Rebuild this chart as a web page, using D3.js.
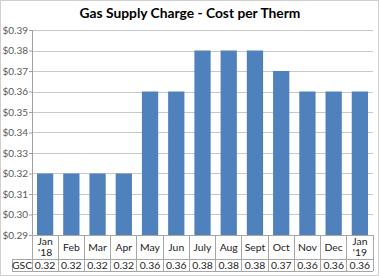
<!DOCTYPE html>
<html>
<head>
<meta charset="utf-8">
<script src="https://cdn.jsdelivr.net/npm/d3@7"></script>
<style>
  body { margin: 0; background: #fff; }
  text { font-family: Lato, "Open Sans", sans-serif; }
</style>
</head>
<body>
<div id="chart"></div>
<script>
var months = ['Jan\n\'18', 'Feb', 'Mar', 'Apr', 'May', 'Jun', 'July', 'Aug', 'Sept', 'Oct', 'Nov', 'Dec', 'Jan\n\'19'];
var gsc = [0.32, 0.32, 0.32, 0.32, 0.36, 0.36, 0.38, 0.38, 0.38, 0.37, 0.36, 0.36, 0.36];
var yTicks = [0.29, 0.30, 0.31, 0.32, 0.33, 0.34, 0.35, 0.36, 0.37, 0.38, 0.39];
var seriesName = 'GSC';

var width = 380, height = 276;
var plotL = 32, plotR = 373, plotT = 30, plotB = 235;
var row1 = 259, row2 = 271, gscLeft = 12;

var svg = d3.select('#chart').append('svg')
    .attr('width', width).attr('height', height);

svg.append('rect')
    .attr('x', 0.5).attr('y', 0.5)
    .attr('width', width - 2).attr('height', height - 1)
    .attr('fill', '#fff').attr('stroke', '#d0d0d0');

svg.append('text')
    .attr('x', 190).attr('y', 18)
    .attr('text-anchor', 'middle')
    .attr('font-size', 13.8).attr('font-weight', 'bold')
    .attr('fill', '#000')
    .text('Gas Supply Charge - Cost per Therm');

var x = d3.scaleBand().domain(d3.range(months.length)).range([plotL, plotR]).paddingInner(0.38).paddingOuter(0.19);
var xc = d3.scaleBand().domain(d3.range(months.length)).range([plotL, plotR]);
var y = d3.scaleLinear().domain([0.29, 0.39]).range([plotB, plotT]);

// gridlines
svg.append('g').selectAll('line').data(yTicks.slice(1)).enter().append('line')
    .attr('x1', plotL).attr('x2', plotR)
    .attr('y1', function(d) { return Math.round(y(d)) + 0.5; })
    .attr('y2', function(d) { return Math.round(y(d)) + 0.5; })
    .attr('stroke', '#c8c8c8');

// y axis
var yAxis = svg.append('g').attr('transform', 'translate(' + plotL + ',0)')
    .call(d3.axisLeft(y).tickValues(yTicks).tickSize(3).tickFormat(function(d) { return '$' + d.toFixed(2); }));
yAxis.select('.domain').attr('stroke', '#a0a0a0');
yAxis.selectAll('.tick line').attr('stroke', '#a0a0a0');
yAxis.selectAll('.tick text').attr('font-size', 10).attr('fill', '#595959')
    .attr('font-family', 'Lato, sans-serif').attr('x', -4);

// bars
svg.append('g').selectAll('rect').data(gsc).enter().append('rect')
    .attr('x', function(d, i) { return x(i); })
    .attr('width', x.bandwidth())
    .attr('y', function(d) { return y(d); })
    .attr('height', function(d) { return plotB - y(d); })
    .attr('fill', '#4f81bd');

// data table
var tbl = svg.append('g').attr('stroke', '#a6a6a6').attr('shape-rendering', 'crispEdges');
tbl.append('line').attr('x1', plotL).attr('x2', plotR).attr('y1', plotB).attr('y2', plotB);
tbl.append('line').attr('x1', gscLeft).attr('x2', plotR).attr('y1', row1).attr('y2', row1);
tbl.append('line').attr('x1', gscLeft).attr('x2', plotR).attr('y1', row2).attr('y2', row2);
tbl.append('line').attr('x1', gscLeft).attr('x2', gscLeft).attr('y1', row1).attr('y2', row2);
tbl.selectAll('.v').data(d3.range(months.length + 1)).enter().append('line')
    .attr('x1', function(i) { return i < months.length ? xc(i) : plotR; })
    .attr('x2', function(i) { return i < months.length ? xc(i) : plotR; })
    .attr('y1', plotB).attr('y2', row2);

var cat = svg.append('g').selectAll('text').data(months).enter().append('text')
    .attr('text-anchor', 'middle')
    .attr('font-size', 10.4).attr('fill', '#222')
    .attr('x', function(d, i) { return xc(i) + xc.bandwidth() / 2; })
    .attr('y', function(d) { return d.indexOf('\n') >= 0 ? 245 : 251; });
cat.each(function(d) {
    var parts = d.split('\n');
    var t = d3.select(this);
    parts.forEach(function(p, k) {
        t.append('tspan').attr('x', t.attr('x')).attr('dy', k ? 11 : 0).text(p);
    });
});

svg.append('text').attr('x', (gscLeft + plotL) / 2).attr('y', 268.5)
    .attr('text-anchor', 'middle').attr('font-size', 10.4).attr('fill', '#222')
    .text(seriesName);

svg.append('g').selectAll('text').data(gsc).enter().append('text')
    .attr('text-anchor', 'middle')
    .attr('font-size', 10.4).attr('fill', '#222')
    .attr('x', function(d, i) { return xc(i) + xc.bandwidth() / 2; })
    .attr('y', 268.5)
    .text(function(d) { return d.toFixed(2); });
</script>
</body>
</html>
